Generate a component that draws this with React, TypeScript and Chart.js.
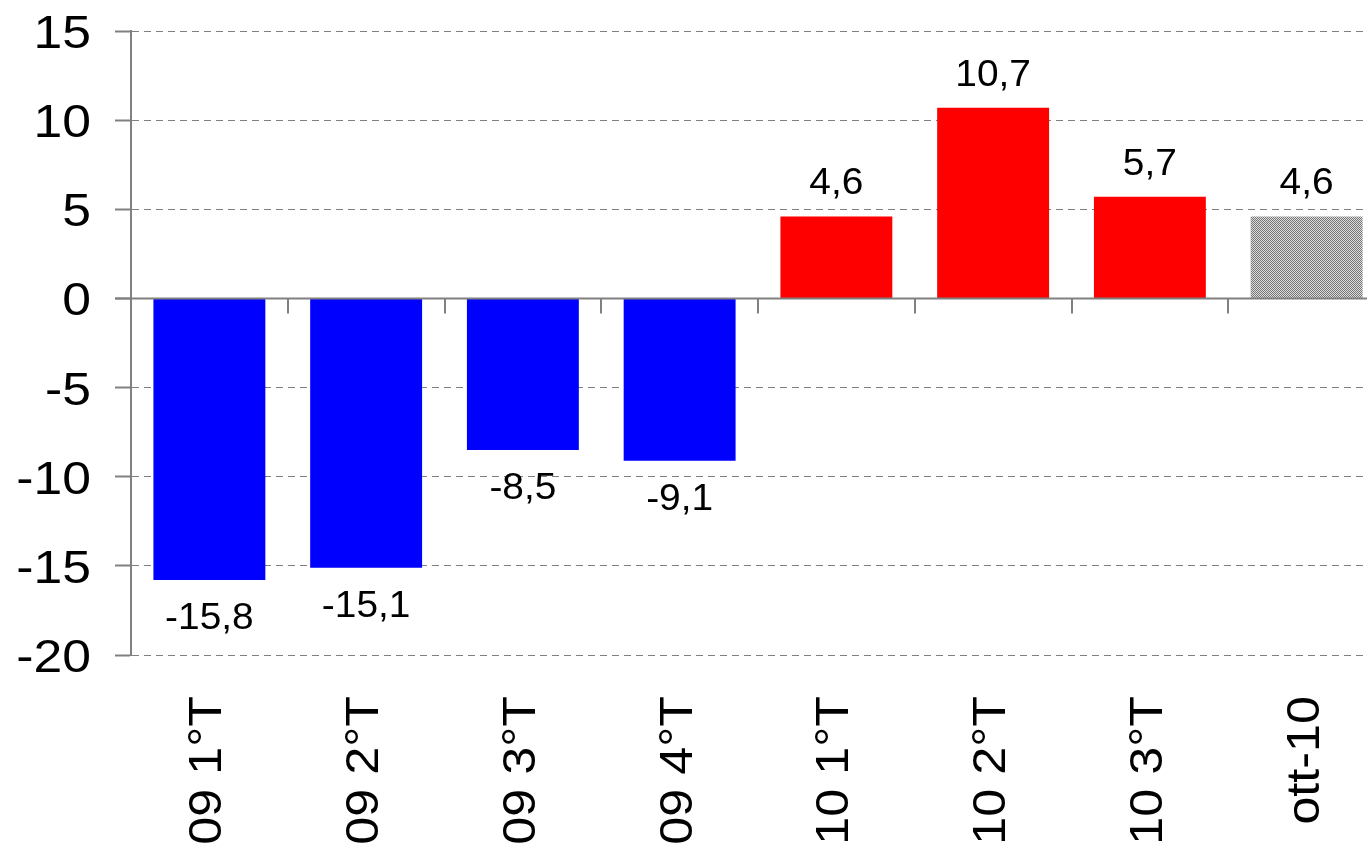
import React, { useEffect, useRef } from "react";
import { Chart, registerables } from "chart.js";

Chart.register(...registerables);

const categories = ["09 1°T", "09 2°T", "09 3°T", "09 4°T", "10 1°T", "10 2°T", "10 3°T", "ott-10"];
const values = [-15.8, -15.1, -8.5, -9.1, 4.6, 10.7, 5.7, 4.6];
const barKinds = ["neg", "neg", "neg", "neg", "pos", "pos", "pos", "last"];
const yMin = -20;
const yMax = 15;
const yStep = 5;

const FONT = "'Liberation Sans', Arial, sans-serif";

function makePattern(): CanvasPattern | string {
  const c = document.createElement("canvas");
  c.width = 2;
  c.height = 2;
  const g = c.getContext("2d");
  if (!g) return "#a8a8a8";
  g.fillStyle = "#dcdcdc";
  g.fillRect(0, 0, 2, 2);
  g.fillStyle = "#767676";
  g.fillRect(0, 0, 1, 1);
  g.fillRect(1, 1, 1, 1);
  const p = g.createPattern(c, "repeat");
  return p || "#a8a8a8";
}

const fmt = (v: number) => v.toFixed(1).replace(".", ",");

function stretchedText(ctx: any, text: string, x: number, y: number, align: string, rot: number, stretch: number) {
  ctx.save();
  ctx.translate(x, y);
  if (rot) ctx.rotate(rot);
  ctx.scale(stretch, 1);
  ctx.textAlign = align;
  ctx.textBaseline = "alphabetic";
  ctx.fillText(text, 0, 0);
  ctx.restore();
}

const overlayPlugin = {
  id: "overlay",
  afterDatasetsDraw(chart: any) {
    const ctx = chart.ctx;
    const xs = chart.scales.x;
    const ys = chart.scales.y;
    const area = chart.chartArea;
    const y0 = ys.getPixelForValue(0);
    ctx.save();
    // zero axis line
    ctx.strokeStyle = "#808080";
    ctx.lineWidth = 2;
    ctx.setLineDash([]);
    ctx.beginPath();
    ctx.moveTo(area.left - 16, y0);
    ctx.lineTo(area.right, y0);
    ctx.stroke();
    // category tick marks
    for (let i = 0; i < categories.length - 1; i++) {
      const bx = Math.round((xs.getPixelForValue(i) + xs.getPixelForValue(i + 1)) / 2);
      ctx.beginPath();
      ctx.moveTo(bx, y0);
      ctx.lineTo(bx, y0 + 15);
      ctx.stroke();
    }
    ctx.fillStyle = "#000";
    // y tick labels
    ctx.font = `47px ${FONT}`;
    ys.ticks.forEach((t: any) => {
      const py = ys.getPixelForValue(t.value);
      stretchedText(ctx, String(t.value), 91, py + 17, "right", 0, 1.1);
    });
    // x category labels
    categories.forEach((lab, i) => {
      const cx = xs.getPixelForValue(i);
      stretchedText(ctx, lab, cx + 12, 696, "right", -Math.PI / 2, 1.07);
    });
    // data labels
    ctx.font = `36px ${FONT}`;
    const meta = chart.getDatasetMeta(0);
    meta.data.forEach((bar: any, i: number) => {
      const v = values[i];
      const ty = v >= 0 ? bar.y - 22 : bar.y + 49;
      stretchedText(ctx, fmt(v), bar.x, ty, "center", 0, 1.08);
    });
    ctx.restore();
  },
};

export default function App() {
  const ref = useRef<HTMLCanvasElement>(null);

  useEffect(() => {
    document.body.style.margin = "0";
    const canvas = ref.current;
    if (!canvas) return;
    const pattern = makePattern();
    const colors = barKinds.map((k) => (k === "neg" ? "#0000ff" : k === "pos" ? "#ff0000" : pattern));
    const chart = new Chart(canvas, {
      type: "bar",
      data: {
        labels: categories,
        datasets: [
          {
            data: values,
            backgroundColor: colors as any,
            borderWidth: 0,
            categoryPercentage: 1,
            barPercentage: 0.714,
          },
        ],
      },
      options: {
        animation: false,
        responsive: false,
        maintainAspectRatio: false,
        devicePixelRatio: 1,
        layout: { padding: { top: 31, right: 0, left: 0, bottom: 0 } },
        plugins: {
          legend: { display: false },
          tooltip: { enabled: false },
          title: { display: false },
        },
        scales: {
          x: {
            grid: { display: false, drawTicks: false },
            border: { display: false },
            ticks: {
              color: "rgba(0,0,0,0)",
              font: { family: FONT, size: 47 },
              maxRotation: 90,
              minRotation: 90,
              padding: 42,
              autoSkip: false,
            },
            afterFit: (s: any) => {
              s.height = 190;
              s.paddingLeft = 0;
              s.paddingRight = 0;
            },
          },
          y: {
            min: yMin,
            max: yMax,
            ticks: {
              stepSize: yStep,
              color: "rgba(0,0,0,0)",
              font: { family: FONT, size: 47 },
              padding: 24,
            },
            grid: {
              color: "#808080",
              lineWidth: 1,
              tickLength: 16,
              tickColor: "#808080",
              tickWidth: 2,
              drawTicks: true,
            },
            border: {
              display: true,
              color: "#808080",
              width: 2,
              dash: (c: any) => (c.tick && c.tick.value === 0 ? [] : [7, 5]),
            } as any,
            afterFit: (s: any) => {
              s.width = 131;
              s.paddingTop = 0;
              s.paddingBottom = 0;
            },
          },
        },
      },
      plugins: [overlayPlugin],
    });
    return () => chart.destroy();
  }, []);

  return (
    <div style={{ position: "fixed", left: 0, top: 0, width: 1367, height: 845, overflow: "hidden", background: "#fff" }}>
      <canvas ref={ref} width={1385} height={845} style={{ width: 1385, height: 845, display: "block" }} />
    </div>
  );
}
